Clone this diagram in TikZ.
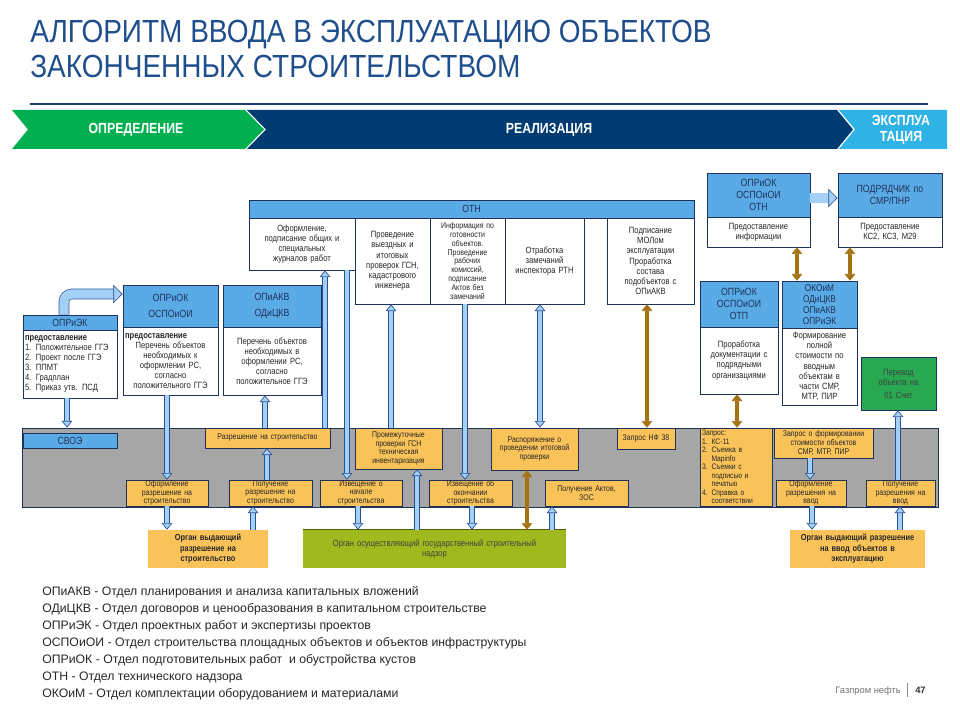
\documentclass[tikz,border=0pt]{standalone}
\usepackage{fontspec}
\setmainfont{Liberation Sans}
\newfontfamily\narrow[FakeStretch=0.84]{Liberation Sans}
\newfontfamily\titlefont[FakeStretch=0.875]{Liberation Sans}
\usetikzlibrary{arrows.meta}
\definecolor{titleblue}{RGB}{31,78,140}
\definecolor{bgreen}{RGB}{0,176,80}
\definecolor{bdark}{RGB}{0,60,113}
\definecolor{blight}{RGB}{47,178,230}
\definecolor{hdr}{RGB}{90,170,230}
\definecolor{edge}{RGB}{30,50,90}
\definecolor{orng}{RGB}{250,195,90}
\definecolor{greyp}{RGB}{166,166,166}
\definecolor{grnbox}{RGB}{40,168,80}
\definecolor{olive}{RGB}{160,185,30}
\definecolor{brn}{RGB}{163,115,20}
\definecolor{afill}{RGB}{165,208,245}
\definecolor{aedge}{RGB}{40,80,150}
\definecolor{legtxt}{RGB}{40,40,40}
\newcommand\bxn[7]{%
  \pgfmathsetmacro\bxw{(#4-(#2))*0.75}%
  \pgfmathsetmacro\bxh{(#5-(#3))*0.75}%
  \pgfmathsetmacro\bxt{(#4-(#2)-4)*0.75}%
  \node[#6, inner sep=0pt, minimum width=\bxw pt, minimum height=\bxh pt, text width=\bxt pt] (#1) at ({(#2+#4)/2},{(#3+#5)/2}) {#7};%
}
\tikzset{
  bt/.tip={Triangle[fill=afill, line width=0.5pt, length=5pt, width=8pt]},
  bigt/.tip={Triangle[fill=afill, line width=0.5pt, length=7pt, width=14pt]},
  brt/.tip={Triangle[line width=0.4pt, length=5pt, width=8pt]},
  txt/.style={font=\narrow\fontsize{6.8}{7.6}\selectfont, align=center, text=black!85},
  smalltxt/.style={font=\narrow\fontsize{6.2}{6.6}\selectfont},
  hdrbox/.style={font=\narrow\fontsize{7.8}{8.8}\selectfont, align=center, text=edge, fill=hdr, draw=edge, line width=0.5pt},
  wbox/.style={txt, fill=white, draw=edge, line width=0.5pt},
  obox/.style={txt, smalltxt, fill=orng, draw=edge, line width=0.5pt},
  barrow/.style={draw=aedge, line width=0.5pt, double=afill, double distance=3pt, -bt},
  barrow2/.style={draw=aedge, line width=0.5pt, double=afill, double distance=3pt, bt-bt},
  bigarrow/.style={draw=aedge, line width=0.5pt, double=afill, double distance=7pt, -bigt},
  brarrow/.style={draw=brn, line width=2.6pt, brt-brt},
  bantxt/.style={font=\narrow\bfseries\fontsize{11}{12.5}\selectfont, text=white, align=center, inner sep=0pt},
}
\begin{document}
\begin{tikzpicture}[x=0.75pt,y=-0.75pt]
\useasboundingbox (0,0) rectangle (960,720);
\fill[white] (0,0) rectangle (960,720);

% title
\node[anchor=base west, inner sep=0pt, text=titleblue, font=\titlefont\fontsize{24}{28}\selectfont] (t1) at (30,43) {АЛГОРИТМ ВВОДА В ЭКСПЛУАТАЦИЮ ОБЪЕКТОВ};
\node[anchor=base west, inner sep=0pt, text=titleblue, font=\titlefont\fontsize{24}{28}\selectfont] (t2) at (30,78) {ЗАКОНЧЕННЫХ СТРОИТЕЛЬСТВОМ};
\draw[titleblue!80!black, line width=1pt] (30,104) -- (928,104);

% banner
\fill[bgreen] (12,110) -- (245,110) -- (264,129.5) -- (245,149) -- (12,149) -- (28,129.5) -- cycle;
\fill[bdark] (247,110) -- (837,110) -- (853,129.5) -- (837,149) -- (247,149) -- (266,129.5) -- cycle;
\fill[blight] (839,110) -- (947,110) -- (947,149) -- (839,149) -- (855,129.5) -- cycle;
\node[bantxt] (p1) at (136,130) {ОПРЕДЕЛЕНИЕ};
\node[bantxt] (p2) at (549,130) {РЕАЛИЗАЦИЯ};
\node[bantxt] (p3) at (901,130) {ЭКСПЛУА\\ТАЦИЯ};

% OTN block
\bxn{otn}{249}{200}{694}{218}{hdrbox}{ОТН}
\bxn{oa}{249}{218}{355}{270}{wbox}{Оформление,\\подписание общих и\\специальных\\журналов работ}
\bxn{ob}{355}{218}{430}{304}{wbox}{Проведение\\выездных и\\итоговых\\проверок ГСН,\\кадастрового\\инженера}
\bxn{oc}{430}{218}{505}{304}{wbox, smalltxt}{Информация по\\готовности\\объектов.\\Проведение\\рабочих\\комиссий,\\подписание\\Актов без\\замечаний}
\bxn{od}{505}{218}{584}{304}{wbox}{Отработка\\замечаний\\инспектора РТН}
\bxn{oe}{607}{218}{694}{304}{wbox}{Подписание\\МОЛом\\эксплуатации\\Проработка\\состава\\подобъектов с\\ОПиАКВ}

% top right
\bxn{tr1h}{707}{173}{810}{217}{hdrbox}{ОПРиОК\\ОСПОиОИ\\ОТН}
\bxn{tr1b}{707}{217}{810}{247}{wbox}{Предоставление\\информации}
\bxn{tr2h}{838}{173}{942}{217}{hdrbox}{ПОДРЯДЧИК по\\СМР/ПНР}
\bxn{tr2b}{838}{217}{942}{247}{wbox}{Предоставление\\КС2, КС3, М29}

% left boxes
\bxn{l1h}{23}{315}{117}{330}{hdrbox}{ОПРиЭК}
\bxn{l1b}{23}{330}{117}{398}{wbox, align=left}{\textbf{предоставление}\\1. Положительное ГГЭ\\2. Проект после ГГЭ\\3. ППМТ\\4. Градплан\\5. Приказ утв. ПСД}
\bxn{l2h}{123}{285}{218}{327}{hdrbox}{ОПРиОК\\[3pt]ОСПОиОИ}
\bxn{l2b}{123}{327}{218}{395}{wbox}{\makebox[\linewidth][l]{\bfseries предоставление}\\Перечень объектов\\необходимых к\\оформлении РС,\\согласно\\положительного ГГЭ}
\bxn{l3h}{223}{285}{321}{327}{hdrbox}{ОПиАКВ\\[3pt]ОДиЦКВ}
\bxn{l3b}{223}{327}{321}{395}{wbox}{Перечень объектов\\необходимых в\\оформлении РС,\\согласно\\положительное ГГЭ}

% right middle
\bxn{m1h}{700}{281}{778}{327}{hdrbox}{ОПРиОК\\ОСПОиОИ\\ОТП}
\bxn{m1b}{700}{327}{778}{394}{wbox}{Проработка\\документации с\\подрядными\\организациями}
\bxn{m2h}{782}{281}{857}{328}{hdrbox, font=\narrow\fontsize{7.4}{8.2}\selectfont}{ОКОиМ\\ОДиЦКВ\\ОПиАКВ\\ОПРиЭК}
\bxn{m2b}{782}{328}{857}{405}{wbox}{Формирование\\полной\\стоимости по\\вводным\\объектам в\\части СМР,\\МТР, ПИР}
\bxn{grn}{861}{357}{936}{410}{txt, fill=grnbox, draw=edge, line width=0.4pt, text=black!75}{Перевод\\объекта на\\[2pt]01 Счет}

% grey panel
\bxn{svoe}{22}{428}{938}{507}{fill=greyp, draw=edge, line width=0.6pt}{}
\bxn{svl}{23}{433}{117}{448}{hdrbox}{СВОЭ}

% orange boxes
\bxn{r1}{205}{428}{330}{448}{obox}{Разрешение на строительство}
\bxn{r2}{126}{480}{208}{506}{obox}{Оформление\\разрешение на\\строительство}
\bxn{r3}{229}{480}{312}{506}{obox}{Получение\\разрешение на\\строительство}
\bxn{r4}{355}{428}{442}{469}{obox}{Промежуточные\\проверки ГСН\\техническая\\инвентаризация}
\bxn{r5}{320}{480}{402}{506}{obox}{Извещение о\\начале\\строительства}
\bxn{r6}{491}{428}{578}{470}{obox}{Распоряжение о\\проведении итоговой\\проверки}
\bxn{r7}{429}{480}{512}{506}{obox}{Извещение об\\окончании\\строительства}
\bxn{r8}{545}{480}{628}{506}{obox}{Получение Актов,\\ЗОС}
\bxn{r9}{617}{428}{675}{449}{obox}{Запрос НФ 38}
\bxn{r10}{700}{428}{772}{506}{obox, align=left, font=\narrow\fontsize{6}{6.4}\selectfont}{Запрос:\\1. КС-11\\2. Съемка в\\\phantom{2. }Mapinfo\\3. Съемки с\\\phantom{3. }подписью и\\\phantom{3. }печатью\\4. Справка о\\\phantom{4. }соответствии}
\bxn{r11}{774}{428}{873}{458}{obox}{Запрос о формировании\\стоимости объектов\\СМР, МТР, ПИР}
\bxn{r12}{776}{480}{846}{506}{obox}{Оформление\\разрешения на\\ввод}
\bxn{r13}{866}{480}{935}{506}{obox}{Получение\\разрешения на\\ввод}

% bottom row
\bxn{b1}{148}{530}{268}{568}{txt, fill=orng, font=\narrow\bfseries\fontsize{6.6}{7.8}\selectfont}{Орган выдающий\\разрешение на\\строительство}
\bxn{b2}{303}{530}{566}{568}{txt, fill=olive, text=black!75}{Орган осуществляющий государственный строительный\\надзор}
\draw[olive!50!black, line width=0.8pt] (b2.north west) -- (b2.north east);
\bxn{b3}{790}{530}{925}{568}{txt, fill=orng, font=\narrow\bfseries\fontsize{6.6}{7.8}\selectfont}{Орган выдающий разрешение\\на ввод объектов в\\эксплуатацию}

% blue arrows
\draw[bigarrow, rounded corners=6pt] (l1h.north -| 64,0) |- (l2h.west |- 0,294);
\draw[bigarrow] (tr1h.east |- 0,198) -- (tr2h.west |- 0,198);
\draw[barrow] (l1b.south -| 67,0) -- (svoe.north -| 67,0);
\draw[barrow] (l2b.south -| 167,0) -- (r2.north -| 167,0);
\draw[barrow] (r2.south -| 167,0) -- (b1.north -| 167,0);
\draw[barrow] (b1.north -| 253,0) -- (r3.south -| 253,0);
\draw[barrow] (r3.north -| 267,0) -- (r1.south -| 267,0);
\draw[barrow] (r1.north -| 265,0) -- (l3b.south -| 265,0);
\draw[barrow] (r1.north -| 325,0) -- (oa.south -| 325,0);
\draw[barrow] (oa.south -| 347,0) -- (r5.north -| 347,0);
\draw[barrow] (r5.south -| 358,0) -- (b2.north -| 358,0);
\draw[barrow] (b2.north -| 417,0) -- (r4.south -| 417,0);
\draw[barrow] (r4.north -| 391,0) -- (ob.south -| 391,0);
\draw[barrow] (oc.south -| 465,0) -- (r7.north -| 465,0);
\draw[barrow] (r7.south -| 472,0) -- (b2.north -| 472,0);
\draw[barrow2] (od.south -| 540,0) -- (r6.north -| 540,0);
\draw[barrow] (b2.north -| 552,0) -- (r8.south -| 552,0);
\draw[barrow] (r11.south -| 810,0) -- (r12.north -| 810,0);
\draw[barrow] (r12.south -| 812,0) -- (b3.north -| 812,0);
\draw[barrow] (b3.north -| 900,0) -- (r13.south -| 900,0);
\draw[barrow] (r13.north -| 898,0) -- (grn.south -| 898,0);

% brown arrows
\draw[brarrow] (r6.south -| 527,0) -- (b2.north -| 527,0);
\draw[brarrow] (oe.south -| 647,0) -- (r9.north -| 647,0);
\draw[brarrow] (m1b.south -| 737,0) -- (r10.north -| 737,0);
\draw[brarrow] (tr1b.south -| 797,0) -- (m2h.north -| 797,0);
\draw[brarrow] (tr2b.south -| 850,0) -- (m2h.north -| 850,0);

% legend
\node[anchor=north west, inner sep=0pt, align=left, text=legtxt, font=\fontsize{9.2}{12.75}\selectfont] (legend) at (42,586) {%
ОПиАКВ - Отдел планирования и анализа капитальных вложений\\
ОДиЦКВ - Отдел договоров и ценообразования в капитальном строительстве\\
ОПРиЭК - Отдел проектных работ и экспертизы проектов\\
ОСПОиОИ - Отдел строительства площадных объектов и объектов инфраструктуры\\
ОПРиОК - Отдел подготовительных работ\ \ и обустройства кустов\\
ОТН - Отдел технического надзора\\
ОКОиМ - Отдел комплектации оборудованием и материалами};

% footer
\node[anchor=base east, inner sep=0pt, text=black!55, font=\fontsize{7}{8}\selectfont] (ft1) at (901,693) {Газпром нефть};
\draw[black!45, line width=0.6pt] (907,683) -- (907,697);
\node[anchor=base west, inner sep=0pt, text=black!80, font=\bfseries\fontsize{7}{8}\selectfont] (ft2) at (915,693) {47};
\end{tikzpicture}
\end{document}
